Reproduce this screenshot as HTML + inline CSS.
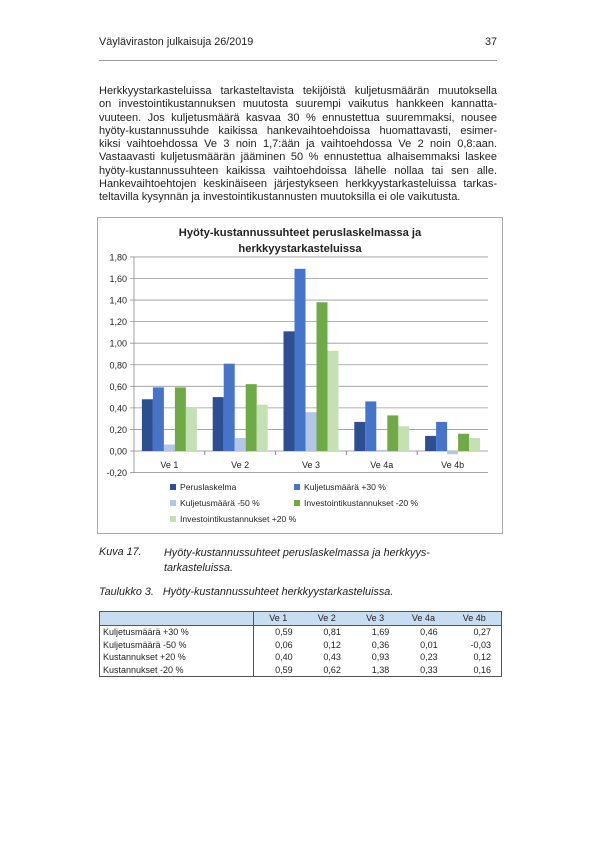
<!DOCTYPE html>
<html><head><meta charset="utf-8">
<style>
body{margin:0;width:595px;height:841px;background:#fff;font-family:"Liberation Sans",sans-serif;color:#222;position:relative;overflow:hidden}
.abs{position:absolute}
.p{position:absolute;left:99px;width:398px;font-size:11px;line-height:13.25px;top:85px}
.p div{text-align:justify;text-align-last:justify;white-space:nowrap;overflow:visible}
.cap{font-style:italic;font-size:10.8px}
table{border-collapse:collapse;font-size:9px;position:absolute;left:99px;top:611px;width:403px}
td{height:12.7px;padding:0 3px;line-height:12px}
td.n{text-align:right;padding-right:10px}
</style></head><body>
<div class="abs" style="left:99px;top:36px;font-size:10.8px">Väyläviraston julkaisuja 26/2019</div>
<div class="abs" style="left:485px;top:36px;font-size:10.8px">37</div>
<div class="abs" style="left:99px;top:60px;width:398px;height:1px;background:#999"></div>
<div class="p">
<div>Herkkyystarkasteluissa tarkasteltavista tekijöistä kuljetusmäärän muutoksella</div>
<div>on investointikustannuksen muutosta suurempi vaikutus hankkeen kannatta-</div>
<div>vuuteen. Jos kuljetusmäärä kasvaa 30 % ennustettua suuremmaksi, nousee</div>
<div>hyöty-kustannussuhde kaikissa hankevaihtoehdoissa huomattavasti, esimer-</div>
<div>kiksi vaihtoehdossa Ve 3 noin 1,7:ään ja vaihtoehdossa Ve 2 noin 0,8:aan.</div>
<div>Vastaavasti kuljetusmäärän jääminen 50 % ennustettua alhaisemmaksi laskee</div>
<div>hyöty-kustannussuhteen kaikissa vaihtoehdoissa lähelle nollaa tai sen alle.</div>
<div>Hankevaihtoehtojen keskinäiseen järjestykseen herkkyystarkasteluissa tarkas-</div>
<div style="text-align-last:left">teltavilla kysynnän ja investointikustannusten muutoksilla ei ole vaikutusta.</div>
</div>

<svg class="abs" style="left:0;top:0" width="595" height="841">
<rect x="97.5" y="217.5" width="405" height="316" fill="#fff" stroke="#aaa"/>
<text x="300" y="236" text-anchor="middle" font-size="11.2" font-weight="bold" fill="#222">Hyöty-kustannussuhteet peruslaskelmassa ja</text>
<text x="300" y="252" text-anchor="middle" font-size="11.2" font-weight="bold" fill="#222">herkkyystarkasteluissa</text>
<g id="grid"></g><g id="bars"></g><g id="legend"></g>
</svg>

<div class="abs cap" style="left:99px;top:546px">Kuva 17.</div>
<div class="abs cap" style="left:164px;top:546px;line-height:15px">Hyöty-kustannussuhteet peruslaskelmassa ja herkkyys-<br>tarkasteluissa.</div>
<div class="abs cap" style="left:99px;top:586px">Taulukko 3.&nbsp;&nbsp; Hyöty-kustannussuhteet herkkyystarkasteluissa.</div>

<table>
<tr style="background:#c9ddf2;border:1px solid #555"><td style="width:147px;border-right:1.5px solid #555"></td><td style="text-align:center">Ve 1</td><td style="text-align:center">Ve 2</td><td style="text-align:center">Ve 3</td><td style="text-align:center">Ve 4a</td><td style="text-align:center">Ve 4b</td></tr>
<tbody id="tb" style="border:1px solid #555"></tbody>
</table>

<script>
const categories=["Ve 1","Ve 2","Ve 3","Ve 4a","Ve 4b"];
const seriesNames=["Peruslaskelma","Kuljetusmäärä +30 %","Kuljetusmäärä -50 %","Investointikustannukset -20 %","Investointikustannukset +20 %"];
const perus=[0.48,0.50,1.11,0.27,0.14];
const kulj30=[0.59,0.81,1.69,0.46,0.27];
const kulj50=[0.06,0.12,0.36,0.01,-0.03];
const inv20m=[0.59,0.62,1.38,0.33,0.16];
const inv20p=[0.40,0.43,0.93,0.23,0.12];
const yTicks=[-0.2,0,0.2,0.4,0.6,0.8,1.0,1.2,1.4,1.6,1.8];
const tableRows=["Kuljetusmäärä +30 %","Kuljetusmäärä -50 %","Kustannukset +20 %","Kustannukset -20 %"];
const tableVals=[kulj30,kulj50,inv20p,inv20m];

const NS="http://www.w3.org/2000/svg";
const colors=["#2e4f8f","#4674c8","#b3c6e6","#6faa46","#c6e0b5"];
const series=[perus,kulj30,kulj50,inv20m,inv20p];
const X0=134,X1=488,Y0=451,PER=107.8;
const y=v=>Y0-v*PER;
const catW=(X1-X0)/categories.length;
function mk(tag,at,parent){const e=document.createElementNS(NS,tag);for(const k in at)e.setAttribute(k,at[k]);parent.appendChild(e);return e;}
const grid=document.getElementById('grid');
yTicks.forEach(t=>{
  const l=mk('line',{x1:X0-4,x2:X1,y1:y(t),y2:y(t),stroke:t===0?'#888':'#999','stroke-width':0.8},grid);
  
  
  const tx=mk('text',{x:X0-7,y:y(t)+3.5,'text-anchor':'end','font-size':9,fill:'#222'},grid);
  tx.textContent=t.toFixed(2).replace('.',',');
  
  
});
mk('line',{x1:X0,x2:X0,y1:y(1.8),y2:y(-0.2),stroke:'#888','stroke-width':0.8},grid);
const bars=document.getElementById('bars');
const bw=11;
categories.forEach((c,i)=>{
  const gx=X0+i*catW+(catW-bw*5)/2;
  series.forEach((s,j)=>{
    const v=s[i];
    const r=mk('rect',{x:gx+j*bw,y:Math.min(y(v),y(0)),width:bw,height:Math.abs(y(v)-y(0)),fill:colors[j]},bars);
    
    
  });
  if(i>0){mk('line',{x1:X0+i*catW,x2:X0+i*catW,y1:y(0),y2:y(0)+4,stroke:'#888'},bars);}
  const t=mk('text',{x:X0+(i+0.5)*catW,y:468,'text-anchor':'middle','font-size':9,fill:'#222'},bars);
  t.textContent=c;
  
  
});
const lg=document.getElementById('legend');
const lpos=[[170,490],[294,490],[170,506],[294,506],[170,522]];
seriesNames.forEach((n,j)=>{
  const [lx,ly]=lpos[j];
  mk('rect',{x:lx,y:ly-6,width:6,height:6,fill:colors[j]},lg);
  const t=mk('text',{x:lx+10,y:ly,'font-size':8.6,fill:'#222'},lg);
  t.textContent=n;
  
  
});
const tb=document.getElementById('tb');
tableRows.forEach((r,i)=>{
  const tr=document.createElement('tr');
  
  
  let h='<td style="border-right:1.5px solid #555">'+r+'</td>';
  tableVals[i].forEach(v=>{h+='<td class="n">'+v.toFixed(2).replace('.',',')+'</td>';});
  tr.innerHTML=h;tb.appendChild(tr);
});
</script>
</body></html>
